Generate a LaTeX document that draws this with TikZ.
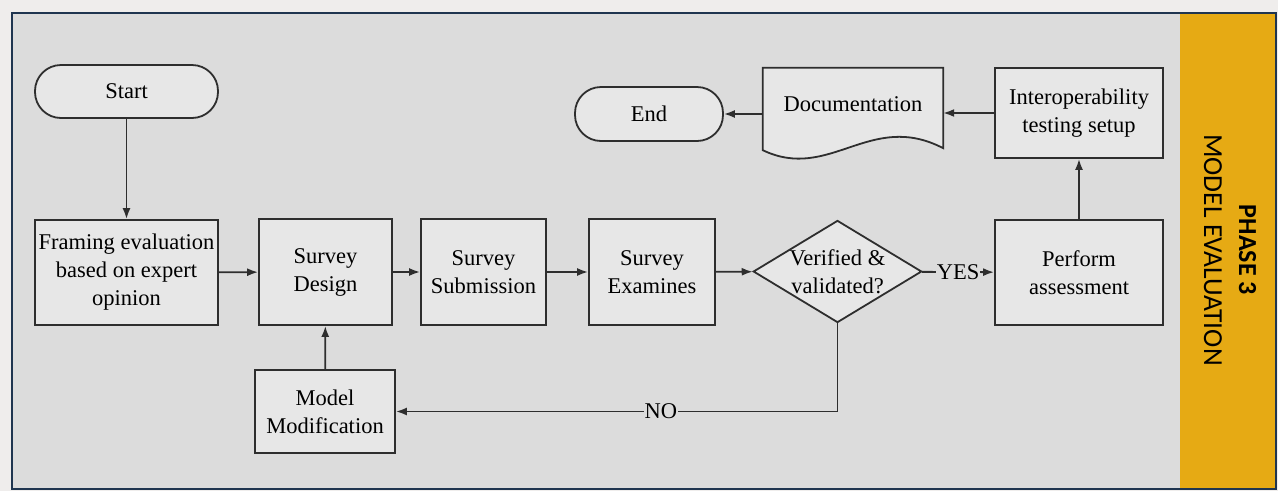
\documentclass[tikz,border=0pt]{standalone}
\usepackage{fontspec}
\setmainfont{Liberation Serif}
\newfontfamily\phasefont{Carlito}
\usetikzlibrary {shapes.geometric, arrows.meta}

\definecolor{margin}{HTML}{EFEDEC}
\definecolor{panel}{HTML}{DCDCDC}
\definecolor{boxfill}{HTML}{E7E7E7}
\definecolor{framecol}{HTML}{1F3550}
\definecolor{phasecol}{HTML}{E6AA14}
\definecolor{inkcol}{HTML}{2E2E2E}

\begin{document}
\begin{tikzpicture}[x=1pt, y=-1pt,
	every node/.style={font=\fontsize{22.5}{28}\selectfont, text=black},
	procbox/.style={draw=inkcol, line width=1.8pt, fill=boxfill, align=center, inner sep=0pt},
	termbox/.style={procbox, rounded corners=26pt},
	decision/.style={procbox, diamond, aspect=1.65, minimum width=165pt, minimum height=101pt},
	flow/.style={draw=inkcol, line width=1.8pt, -{Latex[length=11pt,width=8pt]}},
	answer/.style={fill=panel, inner sep=1pt}]

	\useasboundingbox (0,0) rectangle (1278,491);
	\fill[margin] (0,0) rectangle (1278,491);
	\fill[panel] (12,13) rectangle (1180,489);
	\fill[phasecol] (1180,13) rectangle (1276,489);
	\draw[framecol, line width=2.8pt] (12,13) rectangle (1276,489);

	\node[rotate=-90, align=center, font=\phasefont\fontsize{26}{35}\selectfont]
		(phase) at (1230,250) {\textbf{PHASE 3}\\\fontsize{27.5}{35}\selectfont MODEL EVALUATION};

	% main row
	\node[termbox, minimum width=183pt, minimum height=53pt] (start) at (126.5,91.5) {Start};
	\node[procbox, minimum width=183pt, minimum height=105pt] (frame) at (126.5,272.5)
		{Framing evaluation\\based on expert\\opinion};
	\node[procbox, minimum width=133pt, minimum height=106pt] (design) at (325.5,272) {Survey\\Design};
	\node[procbox, minimum width=125pt, minimum height=106pt] (submit) at (483.5,272) {Survey\\Submission};
	\node[procbox, minimum width=126pt, minimum height=106pt] (examine) at (652,272) {Survey\\Examines};
	\node[decision] (check) at (837.5,271.5) {Verified \&\\validated?};
	\node[procbox, minimum width=168pt, minimum height=105pt] (assess) at (1079,272.5) {Perform\\assessment};
	\node[procbox, minimum width=140pt, minimum height=83pt] (modif) at (325,411.5) {Model\\Modification};

	% top row
	\node[procbox, minimum width=168pt, minimum height=90pt] (interop) at (1079,113)
		{Interoperability\\testing setup};
	\path node[minimum width=180pt, minimum height=72pt, inner sep=0pt] (doc) at (853,104) {};
	\draw[draw=inkcol, line width=1.8pt, fill=boxfill] (doc.north west) -- (doc.north east)
		-- ([yshift=-8pt]doc.south east) .. controls +(-73,-38) and +(67,32) .. ([yshift=-10pt]doc.south west) -- cycle;
	\node (doclabel) at (doc.center) {Documentation};
	\node[termbox, minimum width=148pt, minimum height=54pt] (end) at (649,114) {End};

	\draw[flow] (start) -- (frame);
	\draw[flow] (frame) -- (design);
	\draw[flow] (design) -- (submit);
	\draw[flow] (submit) -- (examine);
	\draw[flow] (examine) -- (check);
	\draw[flow] (check) -- node[answer] {YES} (assess);
	\draw[flow] (check.south) |- node[answer, pos=0.7] {NO} (modif.east);
	\draw[flow] (modif) -- (design);
	\draw[flow] (assess) -- (interop);
	\draw[flow] (interop.west) -- (interop.west -| doc.east);
	\draw[flow] (doc.west |- end) -- (end);
\end{tikzpicture}
\end{document}
